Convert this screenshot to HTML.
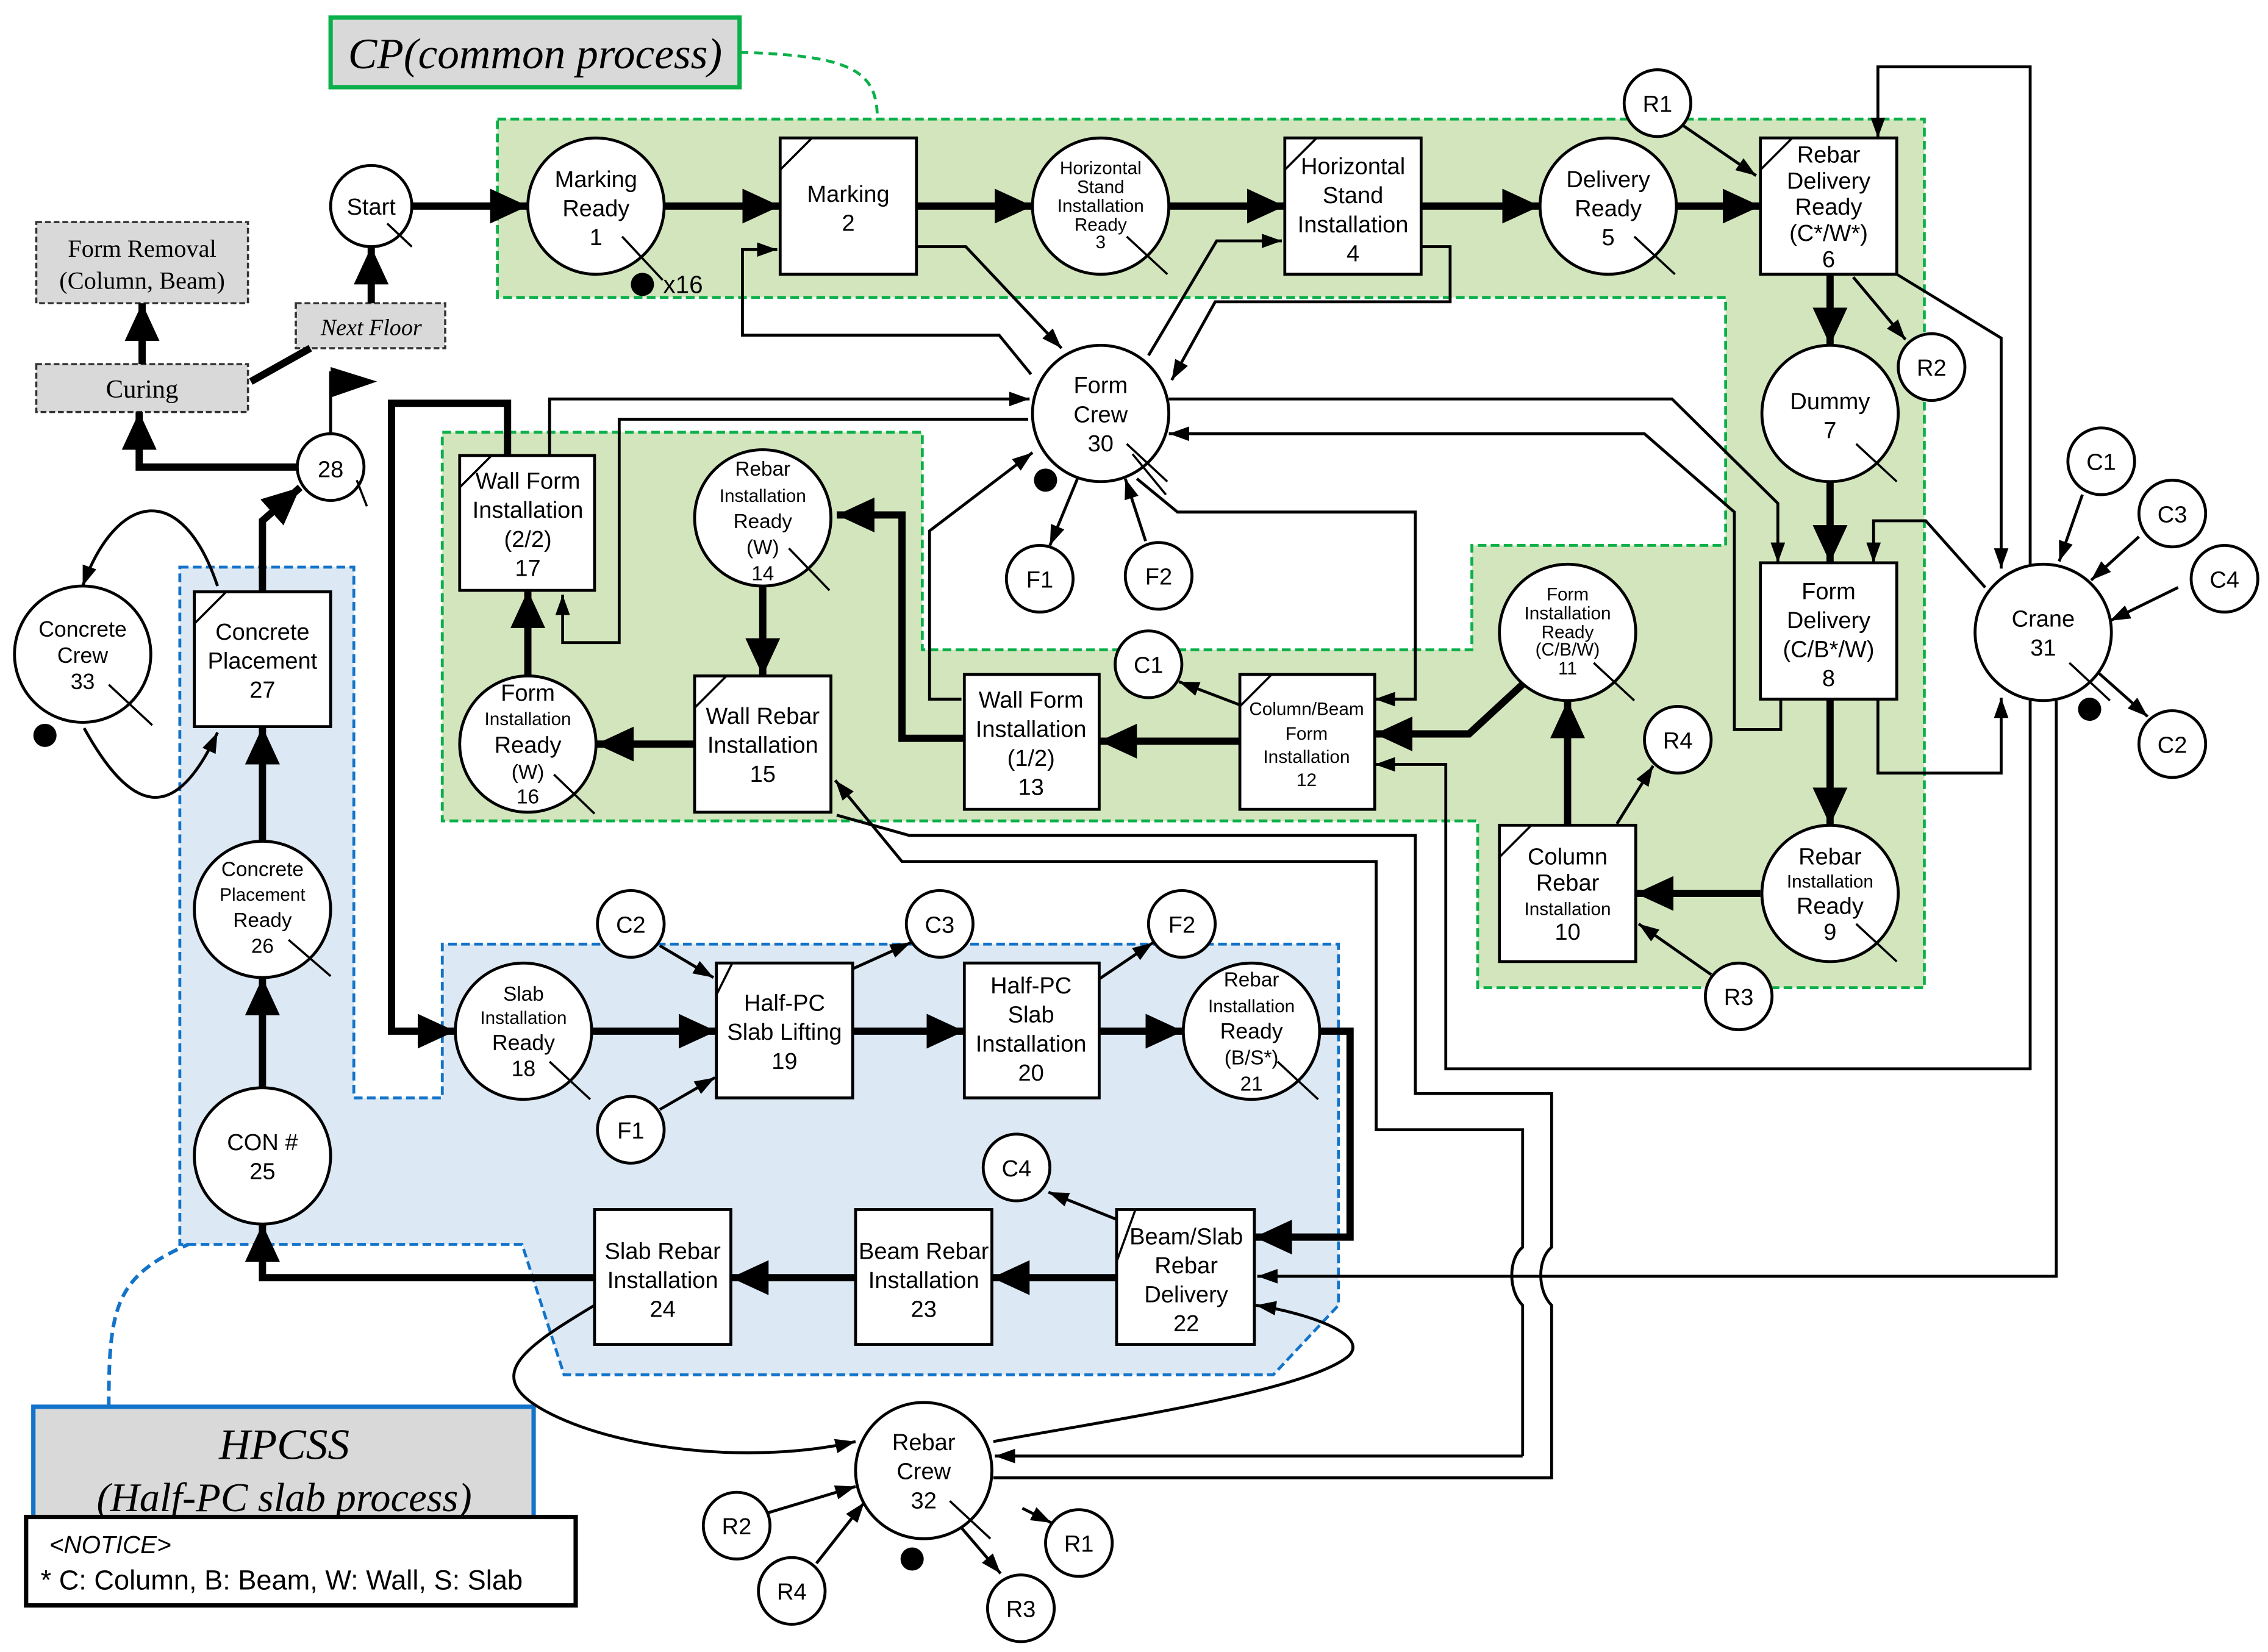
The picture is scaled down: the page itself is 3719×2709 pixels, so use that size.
<!DOCTYPE html>
<html><head><meta charset="utf-8"><style>
html,body{margin:0;padding:0;background:#fff;}
svg{display:block;}
text{font-family:"Liberation Sans",sans-serif;fill:#000;text-anchor:middle;}
.n{font-size:16px;}
.s{font-size:12.5px;}
.it{font-family:"Liberation Serif",serif;font-style:italic;}
</style></head><body>
<svg width="3719" height="2709" viewBox="0 0 1564 1139" xmlns="http://www.w3.org/2000/svg">
<defs>
<marker id="a" markerUnits="userSpaceOnUse" viewBox="0 0 14 10" refX="14" refY="5" markerWidth="14" markerHeight="10" orient="auto"><path d="M0,0L14,5L0,10z" fill="#000"/></marker>
<marker id="b" markerUnits="userSpaceOnUse" viewBox="0 0 26 24" refX="26" refY="12" markerWidth="26" markerHeight="24" orient="auto"><path d="M0,0L26,12L0,24z" fill="#000"/></marker>
</defs>

<!-- regions -->
<path d="M343,82H1327V681H1019V566H305V298H636V448H1015V376H1190V205H343Z" fill="#d3e5bd" stroke="#0bb04a" stroke-width="2" stroke-dasharray="6,3"/>
<path d="M124,391H244V757H305V651H923V900L878,948H389L360,858H124Z" fill="#dce8f3" stroke="#1273c9" stroke-width="2" stroke-dasharray="6,3"/>

<!-- label boxes -->
<rect x="228" y="12" width="282" height="48" fill="#d9d9d9" stroke="#0bb04a" stroke-width="3"/>
<text x="369" y="47" class="it" style="font-size:30px">CP(common process)</text>
<path d="M510,36C590,38 605,50 605,82" fill="none" stroke="#0bb04a" stroke-width="2" stroke-dasharray="6,4"/>
<rect x="25" y="153" width="146" height="56" fill="#d9d9d9" stroke="#333" stroke-width="1.5" stroke-dasharray="4,2"/>
<text x="98" y="177" style="font-family:'Liberation Serif',serif;font-size:17px">Form Removal</text>
<text x="98" y="199" style="font-family:'Liberation Serif',serif;font-size:17px">(Column, Beam)</text>
<rect x="25" y="251" width="146" height="33" fill="#d9d9d9" stroke="#333" stroke-width="1.5" stroke-dasharray="4,2"/>
<text x="98" y="274" style="font-family:'Liberation Serif',serif;font-size:18px">Curing</text>
<rect x="204" y="209" width="103" height="31" fill="#d9d9d9" stroke="#333" stroke-width="1.5" stroke-dasharray="4,2"/>
<text x="256" y="231" class="it" style="font-size:16px">Next Floor</text>
<path d="M75,970C75,900 80,880 130,858" fill="none" stroke="#1273c9" stroke-width="2.5" stroke-dasharray="7,4"/>
<rect x="23" y="970" width="345" height="78" fill="#d9d9d9" stroke="#1273c9" stroke-width="3"/>
<text x="196" y="1006" class="it" style="font-size:30px">HPCSS</text>
<text x="196" y="1042" class="it" style="font-size:28px">(Half-PC slab process)</text>
<rect x="18" y="1046" width="379" height="61" fill="#fff" stroke="#000" stroke-width="3"/>
<text x="34" y="1071" class="it" style="font-size:17px;text-anchor:start;font-family:'Liberation Sans',sans-serif">&lt;NOTICE&gt;</text>
<text x="28" y="1096" style="font-size:19px;text-anchor:start">* C: Column, B: Beam, W: Wall, S: Slab</text>

<!-- thick edges -->
<g fill="none" stroke="#000" stroke-width="5">
<path d="M284,142H364" marker-end="url(#b)"/>
<path d="M458,142H538" marker-end="url(#b)"/>
<path d="M632,142H712" marker-end="url(#b)"/>
<path d="M806,142H886" marker-end="url(#b)"/>
<path d="M980,142H1062" marker-end="url(#b)"/>
<path d="M1156,142H1214" marker-end="url(#b)"/>
<path d="M1262,189V238" marker-end="url(#b)"/>
<path d="M1262,332V388" marker-end="url(#b)"/>
<path d="M1262,482V569" marker-end="url(#b)"/>
<path d="M1214,616H1128" marker-end="url(#b)"/>
<path d="M1081,569V483" marker-end="url(#b)"/>
<path d="M1052,470L1013,506H948" marker-end="url(#b)"/>
<path d="M855,511H758" marker-end="url(#b)"/>
<path d="M665,509H622V355H577" marker-end="url(#b)"/>
<path d="M526,404V466" marker-end="url(#b)"/>
<path d="M479,513H411" marker-end="url(#b)"/>
<path d="M364,466V407" marker-end="url(#b)"/>
<path d="M350,314V278H270V711H314" marker-end="url(#b)"/>
<path d="M408,711H494" marker-end="url(#b)"/>
<path d="M588,711H665" marker-end="url(#b)"/>
<path d="M758,711H816" marker-end="url(#b)"/>
<path d="M910,711H931V853H865" marker-end="url(#b)"/>
<path d="M770,881H684" marker-end="url(#b)"/>
<path d="M590,881H504" marker-end="url(#b)"/>
<path d="M410,881H181V844" marker-end="url(#b)"/>
<path d="M181,750V674" marker-end="url(#b)"/>
<path d="M181,580V501" marker-end="url(#b)"/>
<path d="M181,408V359L207,336" marker-end="url(#b)"/>
<path d="M205,322H96V284" marker-end="url(#b)"/>
<path d="M98,251V209" marker-end="url(#b)"/>
<path d="M173,263L214,240"/>
<path d="M256,209V170" marker-end="url(#b)"/>
</g>
<!-- flag -->
<path d="M228,299V256" stroke="#000" stroke-width="2"/>
<path d="M228,253L260,263L228,274Z" fill="#000"/>

<!-- thin edges -->
<g fill="none" stroke="#000" stroke-width="2">
<path d="M1160,86L1211,121" marker-end="url(#a)"/>
<path d="M1278,191L1314,234" marker-end="url(#a)"/>
<path d="M1308,189L1380,233V392" marker-end="url(#a)"/>
<path d="M1400,389V46H1295V95" marker-end="url(#a)"/>
<path d="M1369,405L1328,359H1292V388" marker-end="url(#a)"/>
<path d="M1295,482V533H1380V481" marker-end="url(#a)"/>
<path d="M1228,482V503H1196V353L1134,299H806" marker-end="url(#a)"/>
<path d="M806,275H1153L1226,347V388" marker-end="url(#a)"/>
<path d="M1436,341L1420,387" marker-end="url(#a)"/>
<path d="M1475,370L1442,400" marker-end="url(#a)"/>
<path d="M1502,405L1455,428" marker-end="url(#a)"/>
<path d="M1445,462L1481,494" marker-end="url(#a)"/>
<path d="M632,170H666L732,240" marker-end="url(#a)"/>
<path d="M711,258L689,231H512V172H536" marker-end="url(#a)"/>
<path d="M980,170H1000V208H838L808,262" marker-end="url(#a)"/>
<path d="M792,245L839,166H884" marker-end="url(#a)"/>
<path d="M379,314V275H710" marker-end="url(#a)"/>
<path d="M709,289H427V443H388V410" marker-end="url(#a)"/>
<path d="M663,482H641V366L712,312" marker-end="url(#a)"/>
<path d="M784,330L812,353H976V482H948" marker-end="url(#a)"/>
<path d="M743,330L724,376" marker-end="url(#a)"/>
<path d="M790,373L776,330" marker-end="url(#a)"/>
<path d="M855,486L813,470" marker-end="url(#a)"/>
<path d="M1115,568L1140,528" marker-end="url(#a)"/>
<path d="M1180,672L1130,637" marker-end="url(#a)"/>
<path d="M1400,483V737H997V527H948" marker-end="url(#a)"/>
<path d="M577,562L627,576H976V754H1070V860C1060,868 1060,890 1070,900V1019H685"/>
<path d="M1050,1004V900C1040,890 1040,868 1050,860V779H949V594H622L576,538" marker-end="url(#a)"/>
<path d="M1050,1004H686" marker-end="url(#a)"/>
<path d="M1418,483V880H867" marker-end="url(#a)"/>
<path d="M455,652L492,674" marker-end="url(#a)"/>
<path d="M588,668L628,650" marker-end="url(#a)"/>
<path d="M758,675L795,650" marker-end="url(#a)"/>
<path d="M455,765L493,743" marker-end="url(#a)"/>
<path d="M778,844L723,822" marker-end="url(#a)"/>
<path d="M410,900C360,930 330,950 380,975C430,1000 520,1010 590,994" marker-end="url(#a)"/>
<path d="M685,994C760,980 900,960 930,935C945,920 900,905 866,900" marker-end="url(#a)"/>
<path d="M530,1043L590,1025" marker-end="url(#a)"/>
<path d="M563,1078L596,1036" marker-end="url(#a)"/>
<path d="M705,1040L725,1050" marker-end="url(#a)"/>
<path d="M660,1050L690,1085" marker-end="url(#a)"/>
<path d="M150,404C125,330 80,340 57,404" marker-end="url(#a)"/>
<path d="M58,502C90,560 120,570 150,505" marker-end="url(#a)"/>
</g>

<!-- boxes -->
<g fill="#fff" stroke="#000" stroke-width="2">
<rect x="538" y="95" width="94" height="94"/>
<rect x="886" y="95" width="94" height="94"/>
<rect x="1214" y="95" width="94" height="94"/>
<rect x="1214" y="388" width="94" height="94"/>
<rect x="1034" y="569" width="94" height="94"/>
<rect x="855" y="465" width="93" height="93"/>
<rect x="665" y="465" width="93" height="93"/>
<rect x="479" y="466" width="94" height="94"/>
<rect x="317" y="314" width="93" height="93"/>
<rect x="494" y="664" width="94" height="93"/>
<rect x="665" y="664" width="93" height="93"/>
<rect x="770" y="834" width="95" height="93"/>
<rect x="590" y="834" width="94" height="93"/>
<rect x="410" y="834" width="94" height="93"/>
<rect x="134" y="408" width="94" height="93"/>
</g>
<g stroke="#000" stroke-width="1.5">
<path d="M538,117L560,95M886,117L908,95M1214,117L1236,95M1034,591L1056,569M855,487L877,465M479,488L501,466M317,336L339,314M494,686L505,664M770,870L783,834M134,430L156,408"/>
</g>

<!-- circles -->
<g fill="#fff" stroke="#000" stroke-width="2">
<circle cx="411" cy="142" r="47"/><circle cx="759" cy="142" r="47"/><circle cx="1109" cy="142" r="47"/>
<circle cx="1262" cy="285" r="47"/><circle cx="1262" cy="616" r="47"/><circle cx="1081" cy="436" r="47"/>
<circle cx="526" cy="357" r="47"/><circle cx="364" cy="513" r="47"/><circle cx="361" cy="711" r="47"/>
<circle cx="863" cy="711" r="47"/><circle cx="181" cy="797" r="47"/><circle cx="181" cy="627" r="47"/>
<circle cx="228" cy="322" r="23"/><circle cx="256" cy="142" r="28"/><circle cx="759" cy="285" r="47"/>
<circle cx="1409" cy="436" r="47"/><circle cx="637" cy="1014" r="47"/><circle cx="57" cy="451" r="47"/>
<circle cx="1143" cy="71" r="23"/><circle cx="1332" cy="253" r="23"/><circle cx="1449" cy="318" r="23"/>
<circle cx="1498" cy="354" r="23"/><circle cx="1534" cy="399" r="23"/><circle cx="1498" cy="513" r="23"/>
<circle cx="792" cy="458" r="23"/><circle cx="1157" cy="510" r="23"/><circle cx="1199" cy="687" r="23"/>
<circle cx="717" cy="399" r="23"/><circle cx="799" cy="397" r="23"/><circle cx="435" cy="637" r="23"/>
<circle cx="648" cy="637" r="23"/><circle cx="815" cy="637" r="23"/><circle cx="435" cy="779" r="23"/>
<circle cx="701" cy="805" r="23"/><circle cx="508" cy="1052" r="23"/><circle cx="546" cy="1097" r="23"/>
<circle cx="744" cy="1064" r="23"/><circle cx="704" cy="1109" r="23"/>
</g>
<!-- slashes -->
<g stroke="#000" stroke-width="1.5">
<path d="M429,163L457,193M777,163L805,189M1127,163L1155,189M1280,306L1308,332M1280,637L1308,663M1099,457L1127,483M544,378L572,407M382,534L410,561M379,732L407,758M881,732L909,758M199,648L228,673M246,331L253,349M267,154L284,170M777,306L805,332M1427,457L1455,483M655,1035L683,1061M75,472L105,500"/>
<path d="M781,313L804,341"/>
</g>
<!-- dots -->
<g fill="#000">
<circle cx="443" cy="196" r="8"/><circle cx="721" cy="331" r="8"/><circle cx="1441" cy="489" r="8"/>
<circle cx="31" cy="507" r="8"/><circle cx="629" cy="1075" r="8"/>
</g>
<text x="471" y="202" class="n" style="font-size:17px">x16</text>

<!-- labels -->
<g class="n">
<text x="411" y="129">Marking</text><text x="411" y="149">Ready</text><text x="411" y="169">1</text>
<text x="585" y="139">Marking</text><text x="585" y="159">2</text>
<text x="759" y="120" class="s">Horizontal</text><text x="759" y="133" class="s">Stand</text><text x="759" y="146" class="s">Installation</text><text x="759" y="159" class="s">Ready</text><text x="759" y="171" class="s">3</text>
<text x="933" y="120">Horizontal</text><text x="933" y="140">Stand</text><text x="933" y="160">Installation</text><text x="933" y="180">4</text>
<text x="1109" y="129">Delivery</text><text x="1109" y="149">Ready</text><text x="1109" y="169">5</text>
<text x="1261" y="112">Rebar</text><text x="1261" y="130">Delivery</text><text x="1261" y="148">Ready</text><text x="1261" y="166">(C*/W*)</text><text x="1261" y="184">6</text>
<text x="1262" y="282">Dummy</text><text x="1262" y="302">7</text>
<text x="1261" y="413">Form</text><text x="1261" y="433">Delivery</text><text x="1261" y="453">(C/B*/W)</text><text x="1261" y="473">8</text>
<text x="1262" y="596">Rebar</text><text x="1262" y="612" class="s">Installation</text><text x="1262" y="630">Ready</text><text x="1262" y="648">9</text>
<text x="1081" y="596">Column</text><text x="1081" y="614">Rebar</text><text x="1081" y="631" class="s">Installation</text><text x="1081" y="648">10</text>
<text x="1081" y="414" class="s">Form</text><text x="1081" y="427" class="s">Installation</text><text x="1081" y="440" class="s">Ready</text><text x="1081" y="452" class="s">(C/B/W)</text><text x="1081" y="465" class="s">11</text>
<text x="901" y="493" class="s">Column/Beam</text><text x="901" y="510" class="s">Form</text><text x="901" y="526" class="s">Installation</text><text x="901" y="542" class="s">12</text>
<text x="711" y="488">Wall Form</text><text x="711" y="508">Installation</text><text x="711" y="528">(1/2)</text><text x="711" y="548">13</text>
<text x="526" y="328" class="s" style="font-size:14px">Rebar</text><text x="526" y="346" class="s">Installation</text><text x="526" y="364" class="s" style="font-size:14px">Ready</text><text x="526" y="382" class="s" style="font-size:14px">(W)</text><text x="526" y="400" class="s" style="font-size:14px">14</text>
<text x="526" y="499">Wall Rebar</text><text x="526" y="519">Installation</text><text x="526" y="539">15</text>
<text x="364" y="483">Form</text><text x="364" y="500" class="s">Installation</text><text x="364" y="519">Ready</text><text x="364" y="537" class="s" style="font-size:14px">(W)</text><text x="364" y="554" class="s" style="font-size:14px">16</text>
<text x="364" y="337">Wall Form</text><text x="364" y="357">Installation</text><text x="364" y="377">(2/2)</text><text x="364" y="397">17</text>
<text x="361" y="690" class="s" style="font-size:14px">Slab</text><text x="361" y="706" class="s">Installation</text><text x="361" y="724" class="s" style="font-size:15px">Ready</text><text x="361" y="742" class="s" style="font-size:15px">18</text>
<text x="541" y="697">Half-PC</text><text x="541" y="717">Slab Lifting</text><text x="541" y="737">19</text>
<text x="711" y="685">Half-PC</text><text x="711" y="705">Slab</text><text x="711" y="725">Installation</text><text x="711" y="745">20</text>
<text x="863" y="680" class="s" style="font-size:14px">Rebar</text><text x="863" y="698" class="s">Installation</text><text x="863" y="716" class="s" style="font-size:15px">Ready</text><text x="863" y="734" class="s" style="font-size:14px">(B/S*)</text><text x="863" y="752" class="s" style="font-size:14px">21</text>
<text x="818" y="858">Beam/Slab</text><text x="818" y="878">Rebar</text><text x="818" y="898">Delivery</text><text x="818" y="918">22</text>
<text x="637" y="868">Beam Rebar</text><text x="637" y="888">Installation</text><text x="637" y="908">23</text>
<text x="457" y="868">Slab Rebar</text><text x="457" y="888">Installation</text><text x="457" y="908">24</text>
<text x="181" y="793">CON #</text><text x="181" y="813">25</text>
<text x="181" y="604" class="s" style="font-size:14px">Concrete</text><text x="181" y="621" class="s">Placement</text><text x="181" y="639" class="s" style="font-size:14px">Ready</text><text x="181" y="657" class="s" style="font-size:14px">26</text>
<text x="181" y="441">Concrete</text><text x="181" y="461">Placement</text><text x="181" y="481">27</text>
<text x="228" y="329">28</text>
<text x="256" y="148">Start</text>
<text x="759" y="271">Form</text><text x="759" y="291">Crew</text><text x="759" y="311">30</text>
<text x="1409" y="432">Crane</text><text x="1409" y="452">31</text>
<text x="637" y="1000">Rebar</text><text x="637" y="1020">Crew</text><text x="637" y="1040">32</text>
<text x="57" y="439" class="s" style="font-size:15px">Concrete</text><text x="57" y="457" class="s" style="font-size:15px">Crew</text><text x="57" y="475" class="s" style="font-size:15px">33</text>
<text x="1143" y="77">R1</text><text x="1332" y="259">R2</text><text x="1449" y="324">C1</text><text x="1498" y="360">C3</text>
<text x="1534" y="405">C4</text><text x="1498" y="519">C2</text><text x="792" y="464">C1</text><text x="1157" y="516">R4</text>
<text x="1199" y="693">R3</text><text x="717" y="405">F1</text><text x="799" y="403">F2</text><text x="435" y="643">C2</text>
<text x="648" y="643">C3</text><text x="815" y="643">F2</text><text x="435" y="785">F1</text><text x="701" y="811">C4</text>
<text x="508" y="1058">R2</text><text x="546" y="1103">R4</text><text x="744" y="1070">R1</text><text x="704" y="1115">R3</text>
</g>
</svg>
</body></html>
